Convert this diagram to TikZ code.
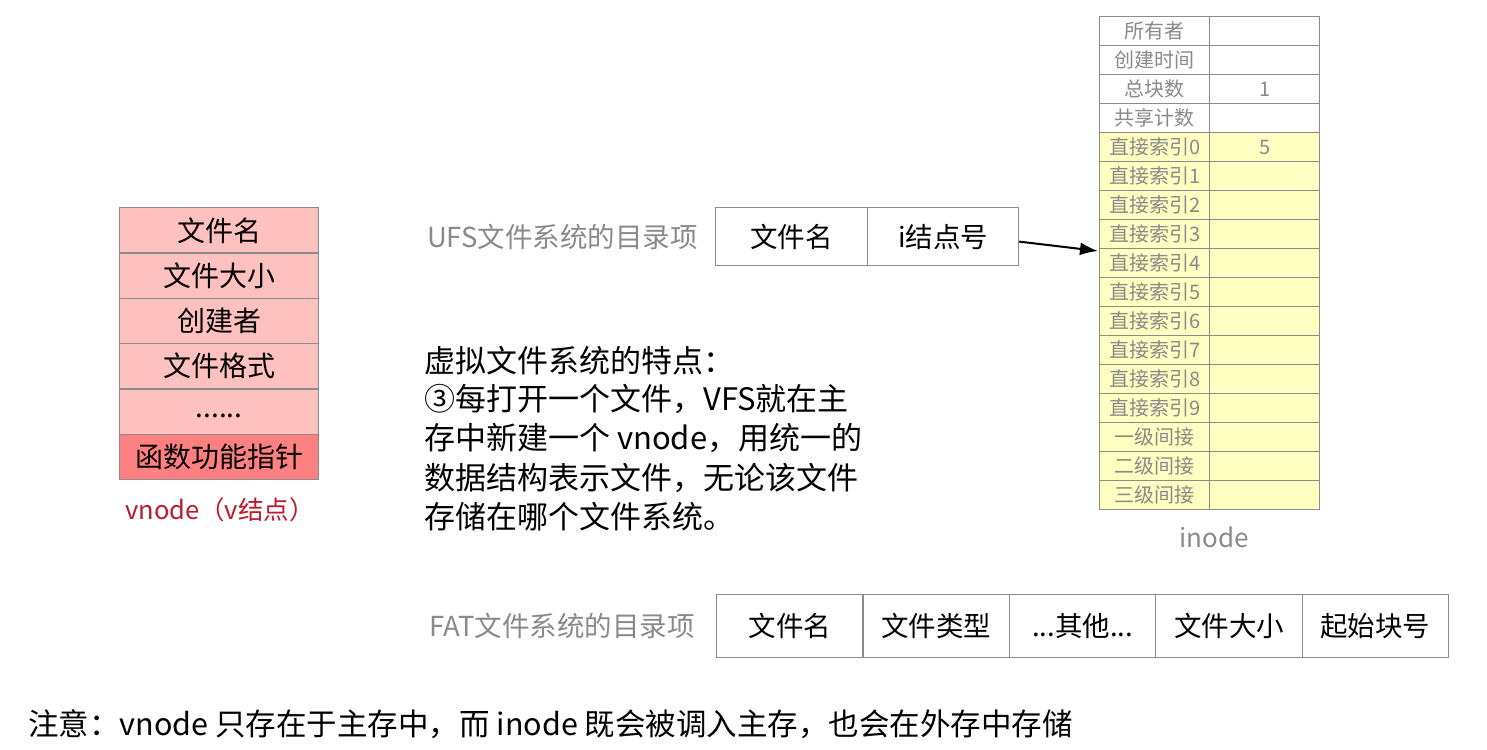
\documentclass[tikz,border=0pt]{standalone}
\usepackage{fontspec}
\setmainfont{Noto Sans CJK SC}
\usetikzlibrary{arrows.meta}
\definecolor{pinkL}{HTML}{FFC0C0}
\definecolor{pinkD}{HTML}{FF8080}
\definecolor{yel}{HTML}{FFFFC2}
\definecolor{gtxt}{HTML}{8A8A8A}
\definecolor{gline}{HTML}{8C8C8C}
\definecolor{redlab}{HTML}{C0182C}
\begin{document}
\begin{tikzpicture}[x=1pt,y=-1pt,
  vcell/.style={draw=gline,line width=1.2pt,fill=pinkL,minimum width=199pt,minimum height=45.33pt,anchor=north west,inner sep=0pt,font=\fontsize{28}{28}\selectfont},
  icell/.style={draw=gline,line width=1.2pt,minimum width=110pt,minimum height=29pt,anchor=north west,inner sep=0pt,text=gtxt,font=\fontsize{20}{20}\selectfont},
  dcell/.style={draw=gline,line width=1.2pt,fill=white,minimum height=58pt,anchor=north west,inner sep=0pt,font=\fontsize{27.5}{27.5}\selectfont},
  fcell/.style={draw=gline,line width=1.2pt,fill=white,minimum width=146.4pt,minimum height=63pt,anchor=north west,inner sep=0pt,font=\fontsize{27.5}{27.5}\selectfont},
  glab/.style={text=gtxt,font=\fontsize{27.5}{27.5}\selectfont,inner sep=0pt},
  body/.style={anchor=base west,inner sep=0pt,font=\fontsize{31}{31}\selectfont}]
\useasboundingbox (0,0) rectangle (1487,749);
\fill[white] (0,0) rectangle (1487,749);
% vnode table
\node[vcell] (v1) at (119,207) {文件名};
\node[vcell] (v2) at (119,252.33) {文件大小};
\node[vcell] (v3) at (119,297.67) {创建者};
\node[vcell] (v4) at (119,343) {文件格式};
\node[vcell] (v5) at (119,388.33) {\raisebox{-6pt}[0pt][0pt]{......}};
\node[vcell,fill=pinkD] (v6) at (119,433.67) {函数功能指针};
\node[text=redlab,font=\fontsize{25.5}{25.5}\selectfont,inner sep=0pt] (vlab) at (220,510) {vnode（v结点）};
% UFS entry
\node[glab,anchor=east] (ufslab) at (698,237) {UFS文件系统的目录项};
\node[dcell,minimum width=152pt] (u1) at (715,207) {文件名};
\node[dcell,minimum width=151pt] (u2) at (867,207) {i结点号};
% inode table
\foreach \t [count=\k from 0] in {所有者,创建时间,总块数,共享计数,直接索引0,直接索引1,直接索引2,直接索引3,直接索引4,直接索引5,直接索引6,直接索引7,直接索引8,直接索引9,一级间接,二级间接,三级间接}{
  \pgfmathsetmacro{\yy}{16+29*\k}
  \ifnum\k<4
    \node[icell,fill=white] (a\k) at (1099,\yy) {\t};
    \node[icell,fill=white] (b\k) at (1209,\yy) {};
  \else
    \node[icell,fill=yel] (a\k) at (1099,\yy) {\t};
    \node[icell,fill=yel] (b\k) at (1209,\yy) {};
  \fi
}
\node[icell,draw=none,fill=none,minimum width=0pt,minimum height=0pt,anchor=center] (n1) at (b2.center) {1};
\node[icell,draw=none,fill=none,minimum width=0pt,minimum height=0pt,anchor=center] (n5) at (b4.center) {5};
\node[glab,font=\fontsize{26}{26}\selectfont] (ilab) at (1214,537) {inode};
\coordinate (tgt) at (1098,251);
\draw[line width=2pt,-{Latex[length=18pt,width=13pt]}] (u2.east) ++(0,5) -- (tgt);
% text block
\node[body] (t1) at (424,372) {虚拟文件系统的特点：};
\node[body] (t2) at (424,410) {③每打开一个文件，VFS就在主};
\node[body] (t3) at (424,449) {存中新建一个 vnode，用统一的};
\node[body] (t4) at (424,489) {数据结构表示文件，无论该文件};
\node[body] (t5) at (424,528) {存储在哪个文件系统。};
% FAT entry
\node[glab,anchor=east] (fatlab) at (695,626) {FAT文件系统的目录项};
\node[fcell] (f1) at (716,594) {文件名};
\node[fcell] (f2) at (862.4,594) {文件类型};
\node[fcell] (f3) at (1008.8,594) {...其他...};
\node[fcell] (f4) at (1155.2,594) {文件大小};
\node[fcell] (f5) at (1301.6,594) {起始块号};
% note
\node[anchor=base west,inner sep=0pt,font=\fontsize{30.5}{30.5}\selectfont] (note) at (28,735) {注意：vnode 只存在于主存中，而 inode 既会被调入主存，也会在外存中存储};
\end{tikzpicture}
\end{document}
